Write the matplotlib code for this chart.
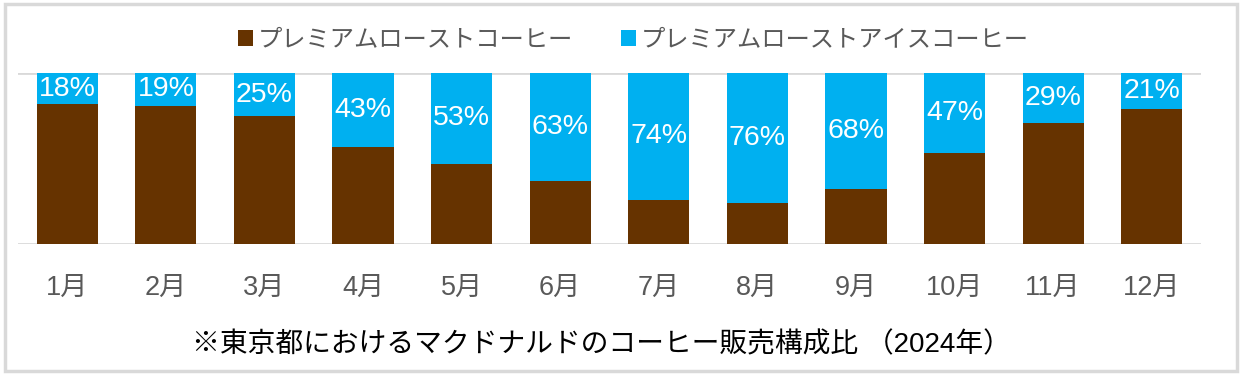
import numpy as np
import matplotlib.pyplot as plt
from matplotlib.patches import Rectangle

plt.rcParams['font.family'] = ['Noto Sans CJK JP', 'DejaVu Sans']
latin_first = ['Liberation Sans', 'Noto Sans CJK JP']

# data: share of iced coffee per month (%)
months = ['1月', '2月', '3月', '4月', '5月', '6月',
          '7月', '8月', '9月', '10月', '11月', '12月']
ice = np.array([18, 19, 25, 43, 53, 63, 74, 76, 68, 47, 29, 21])
hot = 100 - ice
hot_label = 'プレミアムローストコーヒー'
ice_label = 'プレミアムローストアイスコーヒー'
caption = '※東京都におけるマクドナルドのコーヒー販売構成比 （2024年）'

brown = '#663300'
blue = '#00B0F0'
gray = '#595959'

fig = plt.figure(figsize=(12.42, 3.75), dpi=100)
ax = fig.add_axes([0.0145, 0.349, 0.9525, 0.456])

x = np.arange(len(months))
ax.axhline(0, color='#d9d9d9', lw=2, zorder=0)
ax.axhline(100, color='#d9d9d9', lw=2, zorder=0)
ax.bar(x, hot, width=0.62, color=brown, label=hot_label, zorder=2)
ax.bar(x, ice, width=0.62, bottom=hot, color=blue, label=ice_label, zorder=2)

for i, v in enumerate(ice):
    ax.text(x[i], hot[i] + v / 2, f'{v}%', ha='center', va='center',
            color='white', fontsize=20.5, family='Liberation Sans', zorder=3)

ax.set_xlim(-0.5, len(months) - 0.5)
ax.set_ylim(0, 100)
ax.set_yticks([])
ax.set_xticks(x)
ax.set_xticklabels(months, fontsize=19.5, color=gray, family=latin_first)
ax.tick_params(axis='x', length=0, pad=22)
for s in ax.spines.values():
    s.set_visible(False)

fig.legend(loc='center', bbox_to_anchor=(0.51, 0.895), ncol=2, frameon=False,
           fontsize=17.5, labelcolor=gray, handlelength=0.6, handleheight=0.6,
           handletextpad=0.2, columnspacing=2.0)

fig.text(0.484, 0.08, caption, ha='center', va='center', fontsize=20,
         color='black', family=latin_first)

# light frame around the chart
fig.patches.append(Rectangle((0.004, 0.01), 0.992, 0.98, transform=fig.transFigure,
                             fill=False, edgecolor='#d9d9d9', lw=2.5))

fig.savefig('out.png', dpi=100)
